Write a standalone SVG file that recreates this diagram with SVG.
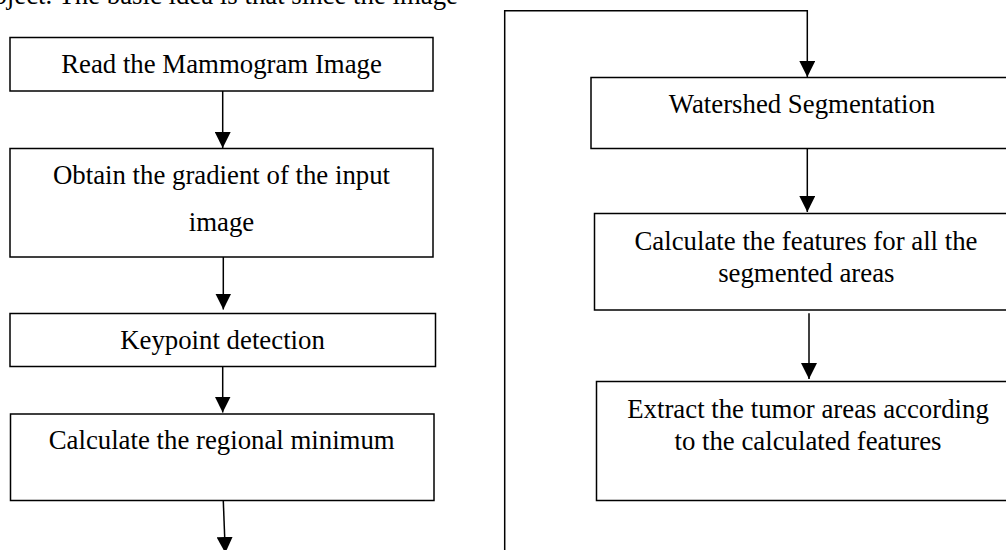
<svg xmlns="http://www.w3.org/2000/svg" width="1006" height="550" viewBox="0 0 1006 550">
<style>
.box{fill:#fff;stroke:#000;stroke-width:1.5}
.t{font-family:"Liberation Serif","Times New Roman",serif;font-size:26.8px;fill:#000;text-anchor:middle}
.c{fill:none;stroke:#000;stroke-width:1.5}
</style>
<defs>
<marker id="ah" markerUnits="userSpaceOnUse" viewBox="0 0 16 16" markerWidth="16" markerHeight="16" refX="16" refY="8" orient="auto">
<path d="M0,0 L16,8 L0,16 Z" fill="#000"/>
</marker>
</defs>
<rect width="1006" height="550" fill="#fff"/>
<text class="t" x="458" y="4" style="text-anchor:end">object. The basic idea is that since the image</text>
<g id="connectors">
<path class="c" d="M222.7,91 V148" marker-end="url(#ah)"/>
<path class="c" d="M223.3,257 V309.5" marker-end="url(#ah)"/>
<path class="c" d="M222.7,367 V412.5" marker-end="url(#ah)"/>
<path class="c" d="M223.3,501 L225.3,553" marker-end="url(#ah)"/>
<path class="c" d="M504.7,560 V10.7 H807.3 V77" marker-end="url(#ah)"/>
<path class="c" d="M807.3,148.5 V212" marker-end="url(#ah)"/>
<path class="c" d="M809,313.3 V379" marker-end="url(#ah)"/>
</g>
<g id="n1"><rect class="box" x="10" y="37.5" width="423" height="53.5"/><text class="t" x="221.5" y="73.3">Read the Mammogram Image</text></g>
<g id="n2"><rect class="box" x="10" y="148.5" width="423" height="108.5"/><text class="t" x="221.5" y="184">Obtain the gradient of the input</text><text class="t" x="221.5" y="230.7">image</text></g>
<g id="n3"><rect class="box" x="10" y="313.5" width="425.5" height="53"/><text class="t" x="222.5" y="349.3">Keypoint detection</text></g>
<g id="n4"><rect class="box" x="10.5" y="414" width="423.5" height="86.5"/><text class="t" x="221.7" y="449">Calculate the regional minimum</text></g>
<g id="n5"><rect class="box" x="591" y="77.5" width="430" height="71"/><text class="t" x="802" y="113.3">Watershed Segmentation</text></g>
<g id="n6"><rect class="box" x="594.5" y="213.5" width="425" height="96.5"/><text class="t" x="806" y="250">Calculate the features for all the</text><text class="t" x="806.3" y="281.7">segmented areas</text></g>
<g id="n7"><rect class="box" x="596.5" y="381.5" width="425" height="119"/><text class="t" x="808" y="418.3">Extract the tumor areas according</text><text class="t" x="808" y="450">to the calculated features</text></g>
</svg>
